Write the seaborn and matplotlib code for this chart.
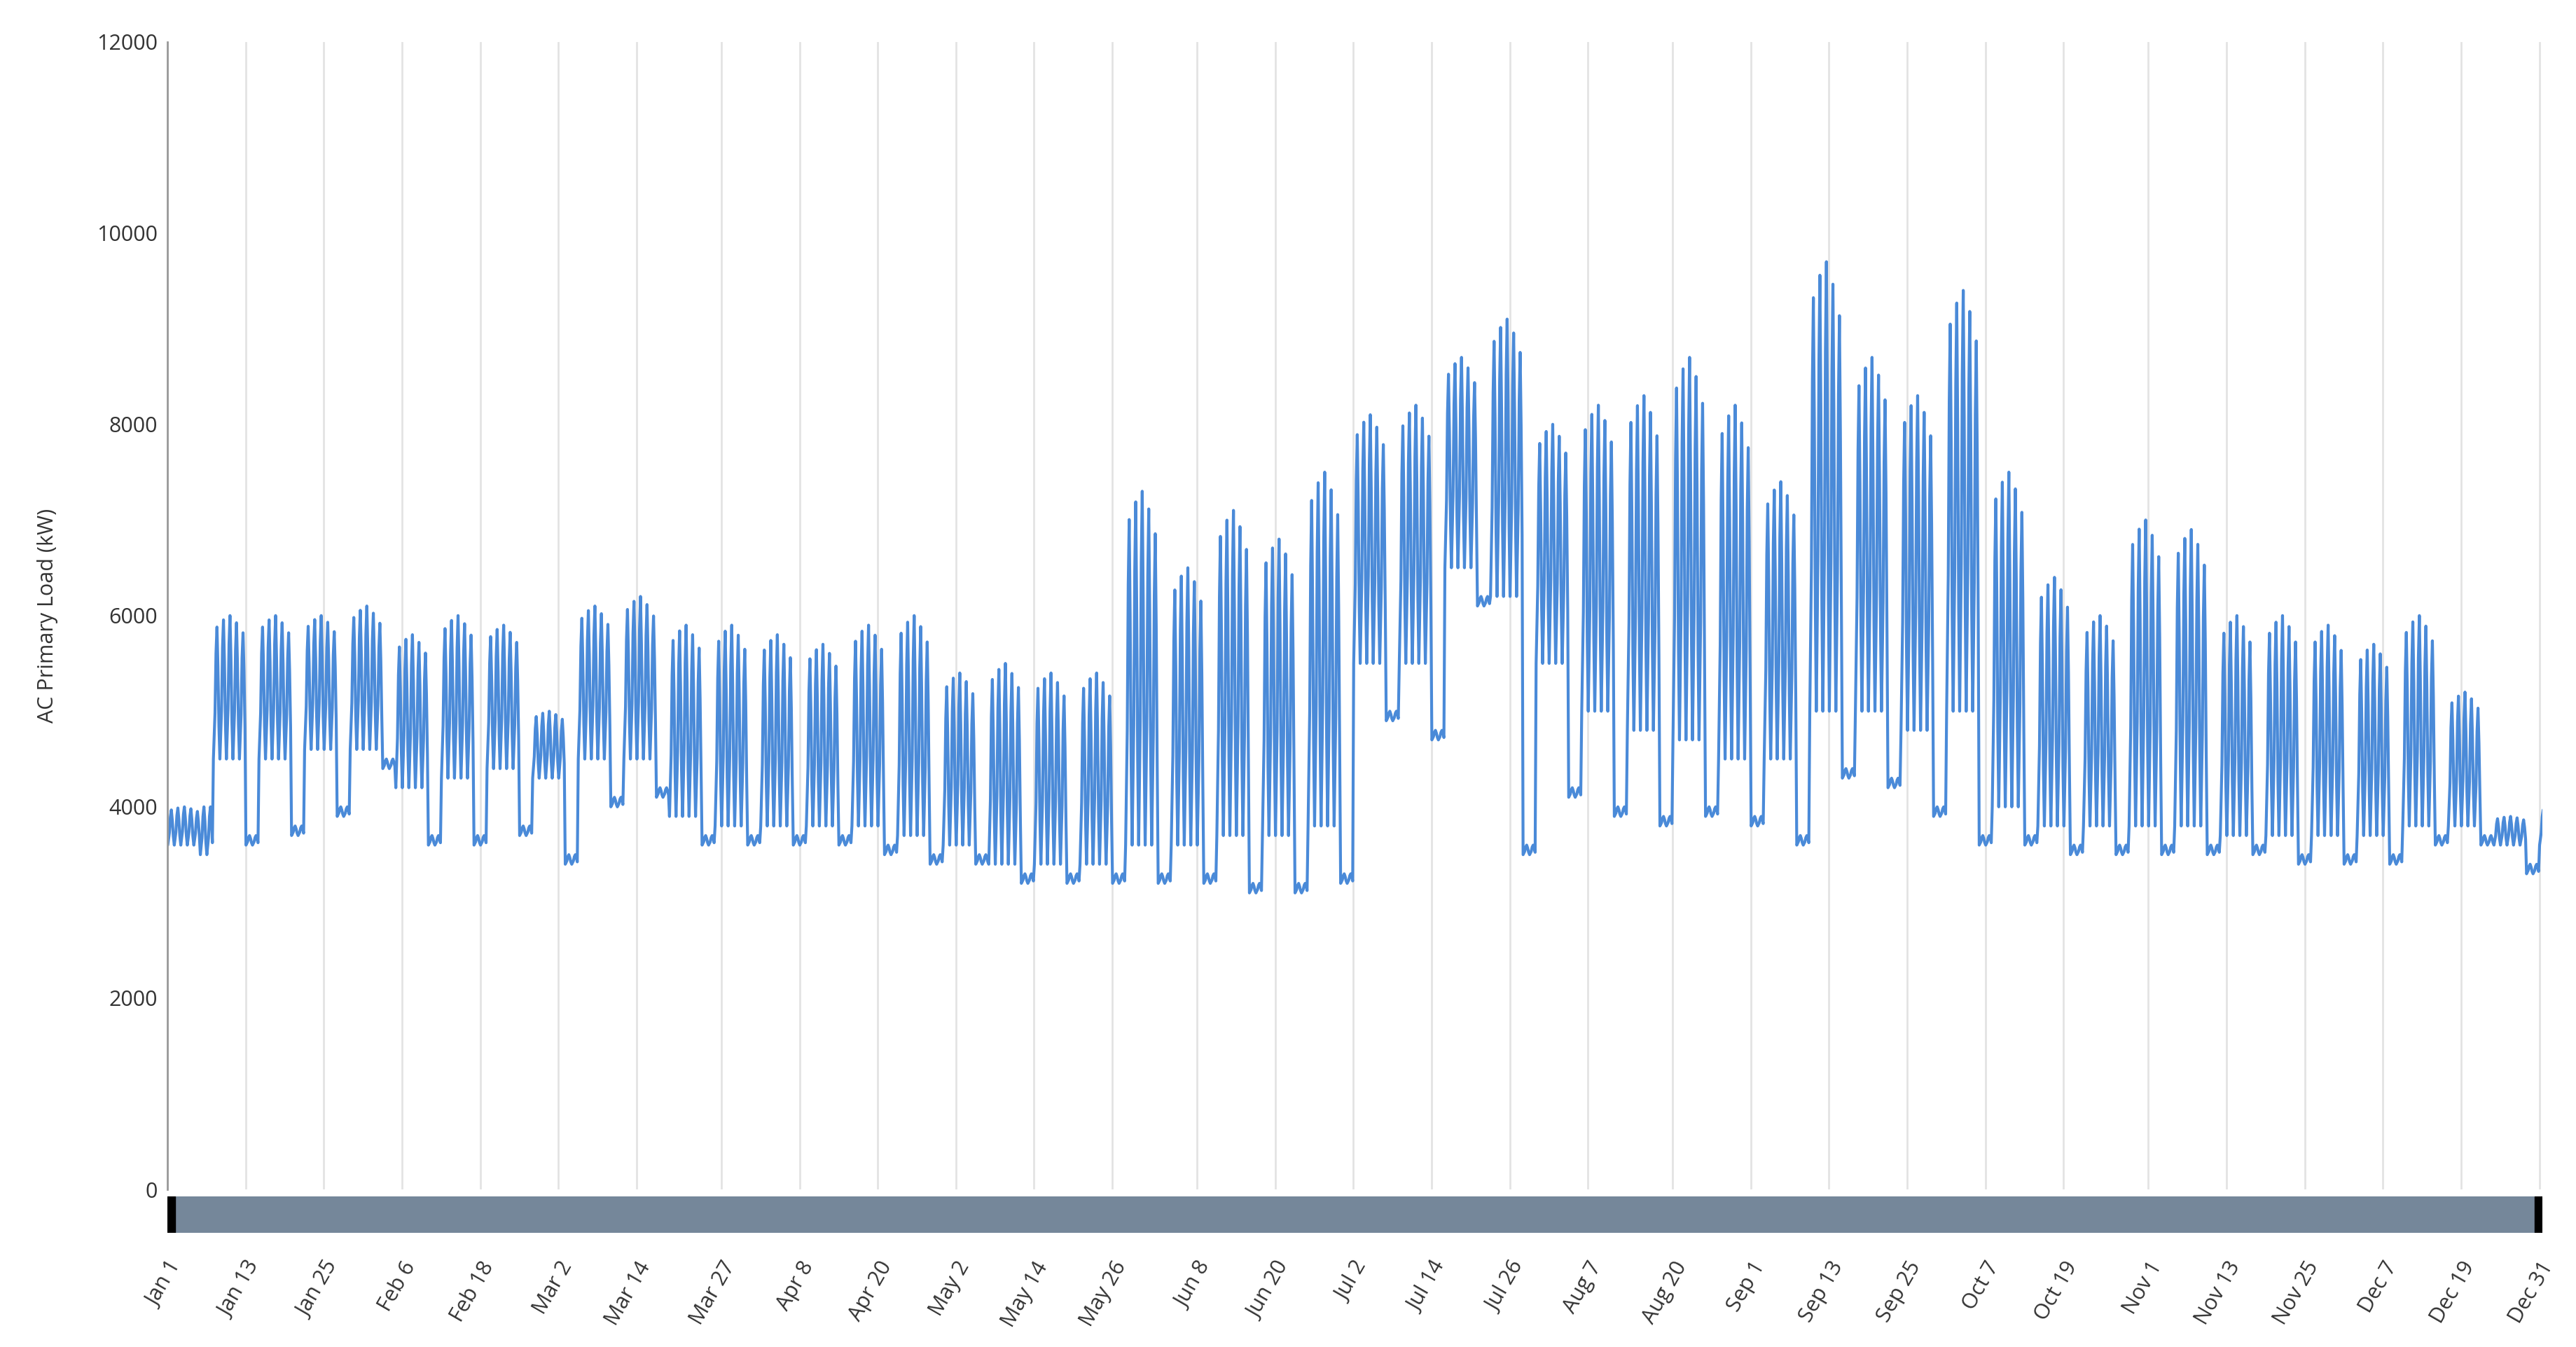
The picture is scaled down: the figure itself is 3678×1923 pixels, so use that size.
import numpy as np
import pandas as pd
import matplotlib.pyplot as plt
import seaborn as sns

# weekly readings (kW): weekday peak, weekday overnight low, weekend peak
week_peak = [4000, 6000, 6000, 6000, 6100, 5800, 6000, 5900, 5000, 6100, 6200, 5900, 5900,
             5800, 5700, 5900, 6000, 5400, 5500, 5400, 5400, 7300, 6500, 7100, 6800, 7500,
             8100, 8200, 8700, 9100, 8000, 8200, 8300, 8700, 8200, 7400, 9700, 8700, 8300,
             9400, 7500, 6400, 6000, 7000, 6900, 6000, 6000, 5900, 5700, 6000, 5200, 3900, 4000]
week_low = [3600, 4500, 4500, 4600, 4600, 4200, 4300, 4400, 4300, 4500, 4500, 3900, 3800,
            3800, 3800, 3800, 3700, 3600, 3400, 3400, 3400, 3600, 3600, 3700, 3700, 3800,
            5500, 5500, 6500, 6200, 5500, 5000, 4800, 4700, 4500, 4500, 5000, 5000, 4800,
            5000, 4000, 3800, 3800, 3800, 3800, 3700, 3700, 3700, 3700, 3800, 3800, 3600, 3600]
week_wknd = [4000, 3700, 3800, 4000, 4500, 3700, 3700, 3800, 3500, 4100, 4200, 3700, 3700,
             3700, 3700, 3600, 3500, 3500, 3300, 3300, 3300, 3300, 3300, 3200, 3200, 3300,
             5000, 4800, 6200, 3600, 4200, 4000, 3900, 4000, 3900, 3700, 4400, 4300, 4000,
             3700, 3700, 3600, 3600, 3600, 3600, 3600, 3500, 3500, 3500, 3700, 3700, 3400, 3500]
# rough within-day shape read from the zigzag: (fraction of day, share of low->peak swing)
day_shape = [(0.05, 0.0), (0.3, 0.35), (0.45, 0.8), (0.6, 1.0), (0.75, 0.7), (0.9, 0.25)]
# weekday peak scaling within a week (Mon..Sun), read from the uneven spikes
weekday_scale = [0.92, 0.97, 1.0, 0.95, 0.88, 1.0, 1.0]

tick_days = [0, 12, 24, 36, 48, 60, 72, 85, 97, 109, 121, 133, 145, 158, 170, 182, 194,
             206, 218, 231, 243, 255, 267, 279, 291, 304, 316, 328, 340, 352, 364]
tick_labels = ["Jan 1", "Jan 13", "Jan 25", "Feb 6", "Feb 18", "Mar 2", "Mar 14", "Mar 27",
               "Apr 8", "Apr 20", "May 2", "May 14", "May 26", "Jun 8", "Jun 20", "Jul 2",
               "Jul 14", "Jul 26", "Aug 7", "Aug 20", "Sep 1", "Sep 13", "Sep 25", "Oct 7",
               "Oct 19", "Nov 1", "Nov 13", "Nov 25", "Dec 7", "Dec 19", "Dec 31"]

t, load = [], []
for d in range(365):
    w = d // 7
    weekend = d % 7 in (5, 6)
    lo = min(week_low[w], week_wknd[w]) - 100 if weekend else week_low[w]
    hi = week_wknd[w] if weekend else lo + (week_peak[w] - lo) * weekday_scale[d % 7]
    for frac, share in day_shape:
        t.append(d + frac)
        load.append(lo + (hi - lo) * share)
df = pd.DataFrame({"day": t, "load": load})

sns.set_style("white")
plt.rcParams["font.family"] = ["Open Sans", "DejaVu Sans"]

fig = plt.figure(figsize=(36.78, 19.23), dpi=100)
ax = fig.add_axes([0.065, 0.117, 0.922, 0.852])
sns.lineplot(data=df, x="day", y="load", ax=ax, color="#4a8ad8", linewidth=3)
ax.set_xlim(0, 364.5)
ax.set_ylim(0, 12000)
ax.set_yticks(range(0, 12001, 2000))
ax.set_xticks(tick_days)
ax.set_xticklabels([])
ax.xaxis.grid(True, color="#e3e3e3", linewidth=2)
ax.yaxis.grid(False)
for s in ["top", "right", "bottom"]:
    ax.spines[s].set_visible(False)
ax.spines["left"].set_color("#999999")
ax.spines["left"].set_linewidth(2)
ax.tick_params(axis="y", labelsize=22, length=0, pad=10, colors="#333333")
ax.tick_params(axis="x", length=0)
ax.set_xlabel("")
ax.set_ylabel("AC Primary Load (kW)", fontsize=22, color="#333333", labelpad=40)

# range slider strip
sax = fig.add_axes([0.065, 0.085, 0.922, 0.027])
sax.set_xlim(0, 364.5)
sax.set_ylim(0, 1)
sax.axvspan(0, 364.5, color="#75879a")
sax.axvspan(0, 1.2, color="black")
sax.axvspan(363.3, 364.5, color="black")
for s in sax.spines.values():
    s.set_visible(False)
sax.set_yticks([])
sax.set_xticks(tick_days)
sax.set_xticklabels(tick_labels, rotation=60, ha="right", rotation_mode="anchor",
                    fontsize=22, color="#333333")
sax.tick_params(axis="x", length=10, color="#999999", pad=16)

fig.savefig("out.png", dpi=100, facecolor="white")
